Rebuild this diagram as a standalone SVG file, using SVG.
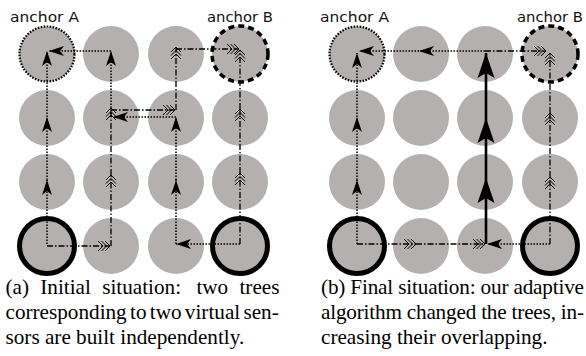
<svg xmlns="http://www.w3.org/2000/svg" width="586" height="356" viewBox="0 0 586 356">
<style>
.n{fill:#b3b0af}
.sink{fill:#b3b0af;stroke:#000;stroke-width:5}
.aa{fill:#b3b0af;stroke:#000;stroke-width:2.2;stroke-dasharray:1.6 1.4}
.ab{fill:#b3b0af;stroke:#000;stroke-width:3.5;stroke-dasharray:6 4}
.lbl{font-family:"DejaVu Sans",sans-serif;font-size:14px;fill:#111}
.cap{font-family:"Liberation Serif","Times New Roman",serif;font-size:21.2px;fill:#000}
.dot{fill:none;stroke:#000;stroke-width:1.5;stroke-dasharray:1.5 1.5;marker-end:url(#tri)}
.dd{fill:none;stroke:#000;stroke-width:1.3;stroke-dasharray:6 2 1.5 2;marker-end:url(#chev)}
.thick{fill:none;stroke:#000;stroke-width:2.6;marker-end:url(#big)}
</style>
<defs>
<marker id="tri" markerUnits="userSpaceOnUse" orient="auto" refX="0" refY="0" markerWidth="1" markerHeight="1" overflow="visible">
<path d="M0,0 L-15,-5 L-11,0 L-15,5 Z" fill="#000"/>
</marker>
<marker id="chev" markerUnits="userSpaceOnUse" orient="auto" refX="0" refY="0" markerWidth="1" markerHeight="1" overflow="visible">
<path d="M-5,-5 L0,0 L-5,5 M-8.5,-5 L-3.5,0 L-8.5,5 M-12,-5 L-7,0 L-12,5" fill="none" stroke="#000" stroke-width="1"/>
</marker>
<marker id="big" markerUnits="userSpaceOnUse" orient="auto" refX="0" refY="0" markerWidth="1" markerHeight="1" overflow="visible">
<path d="M0,0 L-25,-8.5 L-20,0 L-25,8.5 Z" fill="#000"/>
</marker>
</defs>

<!-- Panel (a) nodes -->
<g id="a-nodes">
<circle id="a-anchorA" class="aa" cx="47" cy="54" r="27.5"/>
<circle id="a-n12" class="n" cx="111" cy="54" r="28"/>
<circle id="a-n13" class="n" cx="176" cy="54" r="28"/>
<circle id="a-anchorB" class="ab" cx="240" cy="54" r="28"/>
<circle id="a-n21" class="n" cx="47" cy="118" r="28"/>
<circle id="a-n22" class="n" cx="111" cy="118" r="28"/>
<circle id="a-n23" class="n" cx="176" cy="118" r="28"/>
<circle id="a-n24" class="n" cx="240" cy="118" r="28"/>
<circle id="a-n31" class="n" cx="47" cy="182" r="28"/>
<circle id="a-n32" class="n" cx="111" cy="182" r="28"/>
<circle id="a-n33" class="n" cx="176" cy="182" r="28"/>
<circle id="a-n34" class="n" cx="240" cy="182" r="28"/>
<circle id="a-s1" class="sink" cx="47" cy="246" r="27.5"/>
<circle id="a-n42" class="n" cx="111" cy="246" r="28"/>
<circle id="a-n43" class="n" cx="176" cy="246" r="28"/>
<circle id="a-s2" class="sink" cx="240" cy="246" r="27.5"/>
</g>

<!-- Panel (b) nodes -->
<g id="b-nodes">
<circle id="b-anchorA" class="aa" cx="357" cy="54" r="27.5"/>
<circle id="b-n12" class="n" cx="421" cy="54" r="28"/>
<circle id="b-n13" class="n" cx="485" cy="54" r="28"/>
<circle id="b-anchorB" class="ab" cx="550" cy="54" r="28"/>
<circle id="b-n21" class="n" cx="357" cy="118" r="28"/>
<circle id="b-n22" class="n" cx="421" cy="118" r="28"/>
<circle id="b-n23" class="n" cx="485" cy="118" r="28"/>
<circle id="b-n24" class="n" cx="550" cy="118" r="28"/>
<circle id="b-n31" class="n" cx="357" cy="182" r="28"/>
<circle id="b-n32" class="n" cx="421" cy="182" r="28"/>
<circle id="b-n33" class="n" cx="485" cy="182" r="28"/>
<circle id="b-n34" class="n" cx="550" cy="182" r="28"/>
<circle id="b-s1" class="sink" cx="357" cy="246" r="27.5"/>
<circle id="b-n42" class="n" cx="421" cy="246" r="28"/>
<circle id="b-n43" class="n" cx="485" cy="246" r="28"/>
<circle id="b-s2" class="sink" cx="550" cy="246" r="27.5"/>
</g>

<g id="labels">
<text class="lbl" x="10" y="22" textLength="69" lengthAdjust="spacingAndGlyphs">anchor A</text>
<text class="lbl" x="207" y="22" textLength="66" lengthAdjust="spacingAndGlyphs">anchor B</text>
<text class="lbl" x="320" y="22" textLength="69" lengthAdjust="spacingAndGlyphs">anchor A</text>
<text class="lbl" x="517" y="22" textLength="66" lengthAdjust="spacingAndGlyphs">anchor B</text>
</g>

<!-- Connectors -->
<g id="connectors">
<!-- panel a, tree A (dotted) -->
<path class="dot" d="M47,244 L47,180"/>
<path class="dot" d="M47,180 L47,117"/>
<path class="dot" d="M47,117 L47,51"/>
<path class="dot" d="M111,117 L111,51"/>
<path class="dot" d="M111,51 L49,51"/>
<path class="dot" d="M176,117 L113,117"/>
<path class="dot" d="M176,244 L176,180"/>
<path class="dot" d="M176,180 L176,117"/>
<path class="dot" d="M240,244 L176,244"/>
<!-- panel a, tree B (dash-dot) -->
<path class="dd" d="M47,246 L110,246"/>
<path class="dd" d="M111,246 L111,175"/>
<path class="dd" d="M111,175 L111,108"/>
<path class="dd" d="M111,110 L175,110"/>
<path class="dd" d="M176,110 L176,47"/>
<path class="dd" d="M176,49 L239,49"/>
<path class="dd" d="M240,244 L240,173"/>
<path class="dd" d="M240,173 L240,109"/>
<path class="dd" d="M240,109 L240,50"/>
<!-- panel b, tree A (dotted) -->
<path class="dot" d="M357,244 L357,180"/>
<path class="dot" d="M357,180 L357,117"/>
<path class="dot" d="M357,117 L357,53"/>
<path class="dot" d="M485,51 L419,51"/>
<path class="dot" d="M419,51 L359,51"/>
<path class="dot" d="M550,244 L487,244"/>
<!-- panel b, tree B (dash-dot) -->
<path class="dd" d="M357,244 L416,244"/>
<path class="dd" d="M416,244 L485,244"/>
<path class="dd" d="M485,51 L546,51"/>
<path class="dd" d="M550,244 L550,177"/>
<path class="dd" d="M550,177 L550,113"/>
<path class="dd" d="M550,113 L550,53"/>
<!-- panel b, shared path (solid) -->
<path class="thick" d="M486,244 L486,178"/>
<path class="thick" d="M486,178 L486,118"/>
<path class="thick" d="M486,118 L486,53"/>
</g>

<g id="captions">
<text class="cap" x="5.5" y="294" word-spacing="6">(a) Initial situation: <tspan dx="4">two trees</tspan></text>
<text class="cap" x="5.5" y="319" word-spacing="-2">corresponding to two virtual sen-</text>
<text class="cap" x="5.5" y="344">sors are built independently.</text>
<text class="cap" x="321" y="294" textLength="263" lengthAdjust="spacing">(b) Final situation: our adaptive</text>
<text class="cap" x="321" y="319" textLength="263" lengthAdjust="spacing">algorithm changed the trees, in-</text>
<text class="cap" x="321" y="344">creasing their overlapping.</text>
</g>
</svg>
